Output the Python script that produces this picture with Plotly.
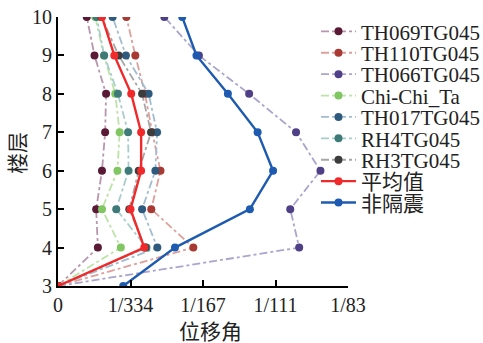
import plotly.graph_objects as go

# Storey levels and inter-storey drift ratios for each record
floors = [3, 4, 5, 6, 7, 8, 9, 10]

th069 = [0, 0.00165, 0.00158, 0.00182, 0.00195, 0.00199, 0.00151, 0.00119]
th110 = [0, 0.00560, 0.00386, 0.00424, 0.00390, 0.00360, 0.00320, 0.00283]
th066 = [0, 0.00998, 0.00961, 0.01086, 0.00985, 0.00791, 0.00583, 0.00440]
chichi = [0, 0.00260, 0.00182, 0.00246, 0.00255, 0.00237, 0.00190, 0.00154]
th017 = [0, 0.00411, 0.00348, 0.00403, 0.00410, 0.00375, 0.00281, 0.00226]
rh4 = [0, 0.00366, 0.00241, 0.00292, 0.00290, 0.00248, 0.00191, 0.00160]
rh3 = [0, 0.00360, 0.00295, 0.00334, 0.00385, 0.00348, 0.00251, 0.00180]
mean_val = [0, 0.00357, 0.00300, 0.00344, 0.00344, 0.00303, 0.00233, 0.00182]
non_iso = [0.00270, 0.00484, 0.00794, 0.00890, 0.00826, 0.00703, 0.00573, 0.00514]

x_tickvals = [0, 0.003, 0.006, 0.009, 0.012]
x_ticktext = ["0", "1/334", "1/167", "1/111", "1/83"]
x_title = "位移角"
y_title = "楼层"

series = [
    ("TH069TG045", th069, "#5a1a35", "#b896ad", "dashdot"),
    ("TH110TG045", th110, "#a83a33", "#dea09b", "dashdot"),
    ("TH066TG045", th066, "#4f3f86", "#aaa5cc", "dashdot"),
    ("Chi-Chi_Ta", chichi, "#80c662", "#bde3a8", "dashdot"),
    ("TH017TG045", th017, "#2e5b7d", "#a2bdd0", "dashdot"),
    ("RH4TG045", rh4, "#3d7a78", "#a8cecc", "dashdot"),
    ("RH3TG045", rh3, "#3c3c3c", "#a6a6a6", "dashdot"),
    ("平均值", mean_val, "#f02a2a", "#f02a2a", "solid"),
    ("非隔震", non_iso, "#1e5bb0", "#1e5bb0", "solid"),
]

W, H = 483, 343
ML, MR, MT, MB = 58, 135, 17, 57
plot_w = W - ML - MR
plot_h = H - MT - MB

serif = "Liberation Serif, Times New Roman, serif"
cjk = "Liberation Serif, Noto Sans CJK SC, serif"

fig = go.Figure()
layout_legends = {}
for i, (name, vals, mcol, lcol, dash) in enumerate(series):
    key = "legend" if i == 0 else f"legend{i + 1}"
    solid = dash == "solid"
    fig.add_trace(go.Scatter(
        x=vals, y=floors, name=name, mode="lines+markers",
        line=dict(color=lcol, width=2.4 if solid else 1.8,
                  dash="solid" if solid else "8px,3px,3px,3px"),
        marker=dict(color=mcol, size=8),
        legend=key,
    ))
    # one single-entry legend per series, stacked in tight rows
    row_px = 31.7 + 21.4 * i
    layout_legends[key] = dict(
        x=(316 - ML) / plot_w, xanchor="left",
        y=(H - MB - row_px) / plot_h, yanchor="middle",
        bgcolor="rgba(0,0,0,0)", borderwidth=0,
        font=dict(family=cjk, size=21, color="#222"),
        itemwidth=35, tracegroupgap=0,
    )

fig.update_layout(
    width=W, height=H,
    margin=dict(l=ML, r=MR, t=MT, b=MB, autoexpand=False),
    paper_bgcolor="white", plot_bgcolor="white",
    showlegend=True,
    **layout_legends,
)

# axis titles placed as paper-anchored text
fig.add_annotation(
    text=x_title, xref="paper", yref="paper",
    x=(210 - ML) / plot_w, y=(H - MB - 332) / plot_h,
    xanchor="center", yanchor="middle", showarrow=False,
    font=dict(family=cjk, size=21, color="#222"),
)
fig.add_annotation(
    text=y_title, xref="paper", yref="paper",
    x=(18 - ML) / plot_w, y=(H - MB - 153) / plot_h,
    xanchor="center", yanchor="middle", showarrow=False, textangle=-90,
    font=dict(family=cjk, size=21, color="#222"),
)

fig.update_xaxes(
    range=[0, 0.012], tickvals=x_tickvals, ticktext=x_ticktext,
    showgrid=False, zeroline=False, showline=True, linecolor="black", linewidth=2,
    ticks="inside", ticklen=6, tickwidth=2, tickcolor="black",
    tickfont=dict(family=serif, size=20, color="#222"),
    automargin=False,
)
fig.update_yaxes(
    range=[3, 10], dtick=1,
    showgrid=False, zeroline=False, showline=True, linecolor="black", linewidth=2,
    ticks="inside", ticklen=6, tickwidth=2, tickcolor="black",
    tickfont=dict(family=serif, size=20, color="#222"),
    automargin=False,
)

fig.write_html("out.html")
